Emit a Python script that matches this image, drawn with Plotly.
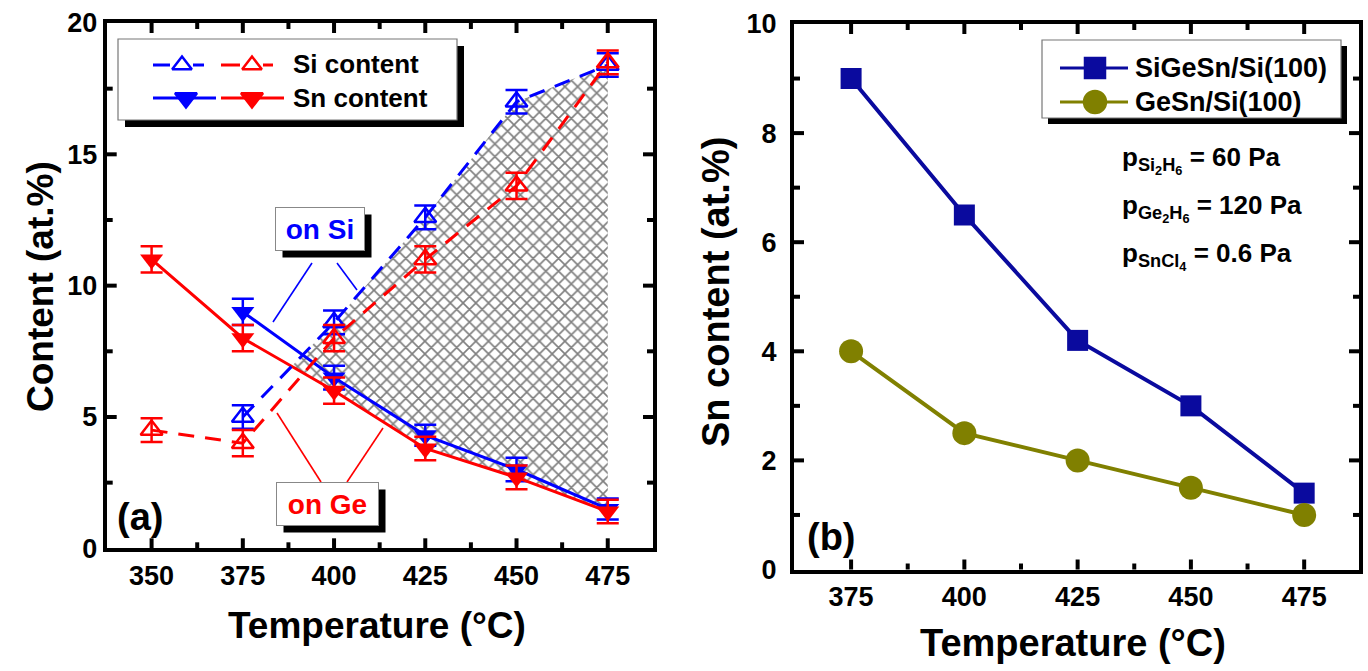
import plotly.graph_objects as go

# ---------------- data : panel (a) ----------------
temps_a = [350, 375, 400, 425, 450, 475]
temps_si = [375, 400, 425, 450, 475]
si_on_si = [5.0, 8.6, 12.6, 17.0, 18.4]
si_on_si_err = [0.45, 0.45, 0.45, 0.45, 0.45]
si_on_ge = [4.5, 4.0, 8.0, 11.0, 13.8, 18.5]
si_on_ge_err = [0.45, 0.5, 0.5, 0.5, 0.5, 0.45]
sn_on_si = [9.0, 6.5, 4.3, 3.0, 1.5]
sn_on_si_err = [0.5, 0.45, 0.4, 0.45, 0.4]
sn_on_ge = [11.0, 8.0, 6.0, 3.8, 2.7, 1.4]
sn_on_ge_err = [0.5, 0.5, 0.5, 0.45, 0.45, 0.45]

# ---------------- data : panel (b) ----------------
temps_b = [375, 400, 425, 450, 475]
sigesn_sn = [9.0, 6.5, 4.2, 3.0, 1.4]
gesn_sn = [4.0, 2.5, 2.0, 1.5, 1.0]

x_ticks_a = [350, 375, 400, 425, 450, 475]
y_ticks_a = [0, 5, 10, 15, 20]
x_ticks_b = [375, 400, 425, 450, 475]
y_ticks_b = [0, 2, 4, 6, 8, 10]

W, H = 1368, 671
FONT = "Liberation Sans, Arial, sans-serif"
BLUE = "#0000FF"
RED = "#FF0000"
NAVY = "#0A0A9E"
OLIVE = "#808000"

# plot-area geometry in pixels (left, right, bottom, top) and axis ranges
A_PX = (106.7, 653.0, 548.3, 23.0)
A_RX, A_RY = (337.7, 487.4), (0, 20)
B_PX = (794.0, 1359.0, 569.5, 24.0)
B_RX, B_RY = (362.4, 487.1), (0, 10)

fig = go.Figure()

# ---- hatched region (between Si-on-Si line and Sn-on-Ge line) ----
i_si0 = temps_si.index(375)
i_ge0 = temps_a.index(375)
y1a, y1b = si_on_si[i_si0], si_on_si[i_si0 + 1]
y2a, y2b = sn_on_ge[i_ge0], sn_on_ge[i_ge0 + 1]
t = (y2a - y1a) / ((y1b - y1a) - (y2b - y2a))
x_int = 375 + t * 25
y_int = y1a + t * (y1b - y1a)
upper_x = [x_int] + temps_si[1:]
upper_y = [y_int] + si_on_si[1:]
lower_x = temps_a[2:][::-1]
lower_y = sn_on_ge[2:][::-1]
fig.add_trace(go.Scatter(
    x=upper_x + lower_x + [x_int], y=upper_y + lower_y + [y_int],
    mode="lines", fill="toself", line=dict(width=0, color="rgba(0,0,0,0)"),
    fillcolor="white",
    fillpattern=dict(shape="x", size=9, solidity=0.33, fgcolor="black", bgcolor="white"),
    xaxis="x", yaxis="y", showlegend=False, hoverinfo="skip"))

def eb(arr, col):
    return dict(type="data", array=arr, visible=True, color=col, thickness=2.5, width=11)

fig.add_trace(go.Scatter(x=temps_si, y=sn_on_si, mode="lines+markers",
    line=dict(color=BLUE, width=3), error_y=eb(sn_on_si_err, BLUE),
    marker=dict(symbol="triangle-down", size=20, color=BLUE),
    xaxis="x", yaxis="y", showlegend=False))
fig.add_trace(go.Scatter(x=temps_a, y=sn_on_ge, mode="lines+markers",
    line=dict(color=RED, width=3), error_y=eb(sn_on_ge_err, RED),
    marker=dict(symbol="triangle-down", size=20, color=RED),
    xaxis="x", yaxis="y", showlegend=False))
fig.add_trace(go.Scatter(x=temps_si, y=si_on_si, mode="lines+markers",
    line=dict(color=BLUE, width=3, dash="16px,11px"), error_y=eb(si_on_si_err, BLUE),
    marker=dict(symbol="triangle-up-open", size=19, color=BLUE, line=dict(width=2.5, color=BLUE)),
    xaxis="x", yaxis="y", showlegend=False))
fig.add_trace(go.Scatter(x=temps_a, y=si_on_ge, mode="lines+markers",
    line=dict(color=RED, width=3, dash="16px,11px"), error_y=eb(si_on_ge_err, RED),
    marker=dict(symbol="triangle-up-open", size=19, color=RED, line=dict(width=2.5, color=RED)),
    xaxis="x", yaxis="y", showlegend=False))

fig.add_trace(go.Scatter(x=temps_b, y=sigesn_sn, mode="lines+markers",
    line=dict(color=NAVY, width=4), marker=dict(symbol="square", size=21, color=NAVY),
    xaxis="x2", yaxis="y2", showlegend=False))
fig.add_trace(go.Scatter(x=temps_b, y=gesn_sn, mode="lines+markers",
    line=dict(color=OLIVE, width=4), marker=dict(symbol="circle", size=24, color=OLIVE),
    xaxis="x2", yaxis="y2", showlegend=False))

# ---- legend glyphs on a pixel overlay axis ----
def glyph(xs, ymid, col, sym, xm, size):
    fig.add_trace(go.Scatter(x=xs, y=[ymid if v is not None else None for v in xs],
        mode="lines", line=dict(color=col, width=3), xaxis="x3", yaxis="y3",
        showlegend=False, hoverinfo="skip"))
    fig.add_trace(go.Scatter(x=[xm], y=[ymid], mode="markers",
        marker=dict(symbol=sym, size=size, color=col, line=dict(width=2.5, color=col)),
        xaxis="x3", yaxis="y3", showlegend=False, hoverinfo="skip"))

glyph([153, 170, None, 193, 204], 65, BLUE, "triangle-up-open", 182, 17)
glyph([221, 240, None, 263, 273], 65, RED, "triangle-up-open", 252, 17)
glyph([153, 216], 98, BLUE, "triangle-down", 186, 19)
glyph([221, 284], 98, RED, "triangle-down", 252, 19)
glyph([1060, 1128], 68, NAVY, "square", 1095, 20)
glyph([1060, 1128], 102, OLIVE, "circle", 1095, 22)

shapes = []
def box(x0, y0, x1, y1, off):
    shapes.append(dict(type="rect", xref="x3", yref="y3", x0=x0 + off, y0=y0 + off,
                       x1=x1 + off, y1=y1 + off, fillcolor="black", line=dict(width=0), layer="below"))
    shapes.append(dict(type="rect", xref="x3", yref="y3", x0=x0, y0=y0, x1=x1, y1=y1,
                       fillcolor="white", line=dict(width=1.2, color="#777"), layer="below"))

box(118, 39, 457, 120, 7)
box(1042, 40, 1341, 118, 6)

def seg(x0, y0, x1, y1, col, w=1.6):
    shapes.append(dict(type="line", xref="x3", yref="y3", x0=x0, y0=y0, x1=x1, y1=y1,
                       line=dict(color=col, width=w)))

seg(312, 263, 273, 322, BLUE)
seg(337, 263, 357, 290, BLUE)
seg(277, 413, 321, 482, RED)
seg(383, 428, 347, 482, RED)

# ---- inside tick marks on all four sides (mirrored), from the axis scales ----
def frange(a, b, step):
    out, v = [], a
    while v <= b + 1e-9:
        out.append(v)
        v += step
    return out

def add_ticks(geom, rx, ry, xmaj, ymaj, xminor_step, yminor_step):
    l, r, b, tp = geom
    def xp(v):
        return l + (v - rx[0]) / (rx[1] - rx[0]) * (r - l)
    def yp(v):
        return b - (v - ry[0]) / (ry[1] - ry[0]) * (b - tp)
    xmin = [v for v in frange(xmaj[0] - 4 * xminor_step, xmaj[-1] + 4 * xminor_step, xminor_step)
            if v not in xmaj]
    ymin = [v for v in frange(ymaj[0], ymaj[-1], yminor_step) if v not in ymaj]
    for vals, ln in ((xmaj, 10), (xmin, 6)):
        for v in vals:
            p = xp(v)
            if l + 3 < p < r - 3:
                seg(p, b, p, b - ln, "black", 4)
                seg(p, tp, p, tp + ln, "black", 4)
    for vals, ln in ((ymaj, 10), (ymin, 6)):
        for v in vals:
            p = yp(v)
            if tp + 3 < p < b - 3:
                seg(l, p, l + ln, p, "black", 4)
                seg(r, p, r - ln, p, "black", 4)

add_ticks(A_PX, A_RX, A_RY, x_ticks_a, y_ticks_a, 12.5, 2.5)
add_ticks(B_PX, B_RX, B_RY, x_ticks_b, y_ticks_b, 12.5, 1)

annots = []
def txt(x, y, s, size, col="black", xanchor="center", **kw):
    d = dict(x=x, y=y, xref="x3", yref="y3", text=s,
             showarrow=False, xanchor=xanchor, yanchor="middle",
             font=dict(family=FONT, size=size, color=col, weight="bold"))
    d.update(kw)
    annots.append(d)

def labelbox(x, y, s, col, w, h, off):
    annots.append(dict(x=x, y=y, xref="x3", yref="y3", text=" ", showarrow=False,
                       width=w, height=h, bgcolor="black", xshift=off, yshift=-off,
                       font=dict(size=10)))
    annots.append(dict(x=x, y=y, xref="x3", yref="y3", text=s, showarrow=False,
                       width=w, height=h, bgcolor="white", bordercolor="#888", borderwidth=1,
                       font=dict(family=FONT, size=28, color=col, weight="bold")))

labelbox(320, 229, "on Si", BLUE, 86, 40, 7)
labelbox(327, 504, "on Ge", RED, 99, 40, 7)

txt(291, 64, "Si content", 26, xanchor="left")
txt(291, 98, "Sn content", 26, xanchor="left")
txt(1133, 68, "SiGeSn/Si(100)", 27, xanchor="left")
txt(1133, 102, "GeSn/Si(100)", 27, xanchor="left")

txt(1120, 160, "p<sub>Si<sub>2</sub>H<sub>6</sub></sub> = 60 Pa", 26, xanchor="left")
txt(1120, 208, "p<sub>Ge<sub>2</sub>H<sub>6</sub></sub> = 120 Pa", 26, xanchor="left")
txt(1120, 256, "p<sub>SnCl<sub>4</sub></sub> = 0.6 Pa", 26, xanchor="left")

txt(140, 517, "(a)", 38)
txt(831, 537, "(b)", 38)

txt(377, 625, "Temperature (°C)", 37)
txt(40, 287, "Content (at.%)", 37, textangle=-90)
txt(1073, 643, "Temperature (°C)", 38)
txt(716, 292, "Sn content (at.%)", 38, textangle=-90)

def ax(geom, rng, anchor, horiz, tickvals, standoff):
    l, r, b, tp = geom
    domain = [l / W, r / W] if horiz else [1 - b / H, 1 - tp / H]
    d = dict(domain=domain, range=list(rng), anchor=anchor, showgrid=False, zeroline=False,
             showline=True, linecolor="black", linewidth=4, mirror=True,
             ticks="", tickmode="array", tickvals=tickvals,
             tickfont=dict(family=FONT, size=27, color="black", weight="bold"),
             automargin=False)
    if standoff:
        d["ticklabelstandoff"] = standoff
    return d

fig.update_layout(
    width=W, height=H, margin=dict(l=0, r=0, t=0, b=0),
    paper_bgcolor="white", plot_bgcolor="rgba(0,0,0,0)",
    xaxis=ax(A_PX, A_RX, "y", True, x_ticks_a, 0),
    yaxis=ax(A_PX, A_RY, "x", False, y_ticks_a, 0),
    xaxis2=ax(B_PX, B_RX, "y2", True, x_ticks_b, 0),
    yaxis2=ax(B_PX, B_RY, "x2", False, y_ticks_b, 8),
    xaxis3=dict(domain=[0, 1], range=[0, W], visible=False, anchor="y3"),
    yaxis3=dict(domain=[0, 1], range=[H, 0], visible=False, anchor="x3"),
    shapes=shapes, annotations=annots, showlegend=False,
)

fig.write_html("out.html", config={"displayModeBar": False},
               post_script="document.body.style.margin='0';document.body.style.overflow='hidden';")
